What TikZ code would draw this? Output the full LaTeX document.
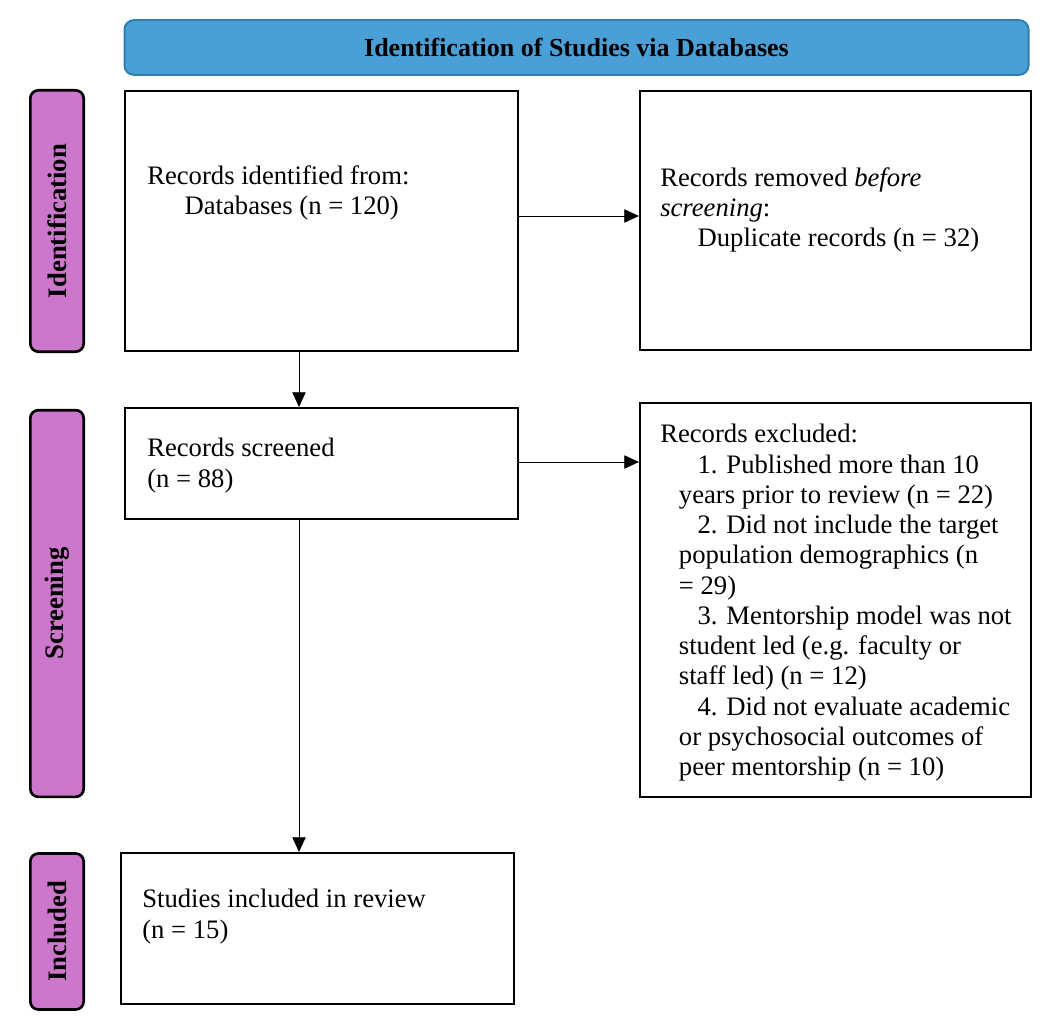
\documentclass[tikz,border=0pt]{standalone}
\usepackage{fontspec}
\setmainfont{Liberation Serif}
\usetikzlibrary{arrows.meta}
\definecolor{banner}{HTML}{4A9FD6}
\definecolor{bannerb}{HTML}{2F7FAF}
\definecolor{side}{HTML}{CC77CC}
\tikzset{
  boxs/.style={draw=black, line width=1.6pt},
  sidebox/.style={draw=black, line width=2pt, fill=side, rounded corners=6pt},
  sidetext/.style={rotate=90, font=\fontsize{20pt}{22pt}\selectfont\bfseries},
  txt/.style={anchor=north west, inner sep=0pt, align=left, font=\fontsize{20pt}{22.7pt}\selectfont},
  arr/.style={-{Triangle[length=11pt,width=10pt]}, line width=0.7pt}
}
\begin{document}
\begin{tikzpicture}[x=0.75pt,y=-0.75pt]
\useasboundingbox (0,0) rectangle (1054,1020);
% banner
\node[draw=bannerb, line width=1.5pt, fill=banner, rounded corners=7pt, minimum width=678pt, minimum height=41pt, inner sep=0pt, font=\fontsize{19.5pt}{22pt}\selectfont\bfseries] (ban) at (576.5,47.5) {Identification of Studies via Databases};
% side labels
\node[sidebox, minimum width=40pt, minimum height=196pt, inner sep=0pt] (s1) at (57,221) {};
\node[sidetext] (t1) at (s1.center) {Identification};
\node[sidebox, minimum width=40pt, minimum height=290pt, inner sep=0pt] (s2) at (57,603.5) {};
\node[sidetext] (t2) at (s2.center) {Screening};
\node[sidebox, minimum width=40pt, minimum height=117pt, inner sep=0pt] (s3) at (57,931.5) {};
\node[sidetext] (t3) at (s3.center) {Included};
% boxes
\node[boxs, minimum width=294.75pt, minimum height=195pt, inner sep=0pt] (b1) at (321.5,221) {};
\node[txt] (b1t) at (147,165) {Records identified from:\\\hspace*{28pt}Databases (n = 120)};
\node[boxs, minimum width=293.25pt, minimum height=194.25pt, inner sep=0pt] (b2) at (835.5,220.5) {};
\node[txt] (b2t) at (660,167) {Records removed \emph{before}\\\emph{screening}:\\\hspace*{28pt}Duplicate records (n = 32)};
\node[boxs, minimum width=294.75pt, minimum height=83.25pt, inner sep=0pt] (b3) at (321.5,463.5) {};
\node[txt] (b3t) at (147,438) {Records screened\\(n = 88)};
\node[boxs, minimum width=293.25pt, minimum height=295.5pt, inner sep=0pt] (b4) at (835.5,600) {};
\node[txt] (b4t) at (660,424) {Records excluded:\\
\hspace*{28pt}1. Published more than 10\\
\hspace*{14pt}years prior to review (n = 22)\\
\hspace*{28pt}2. Did not include the target\\
\hspace*{14pt}population demographics (n\\
\hspace*{14pt}= 29)\\
\hspace*{28pt}3. Mentorship model was not\\
\hspace*{14pt}student led (e.g. faculty or\\
\hspace*{14pt}staff led) (n = 12)\\
\hspace*{28pt}4. Did not evaluate academic\\
\hspace*{14pt}or psychosocial outcomes of\\
\hspace*{14pt}peer mentorship (n = 10)};
\node[boxs, minimum width=294.75pt, minimum height=113.25pt, inner sep=0pt] (b5) at (317.5,928.5) {};
\node[txt] (b5t) at (142,889) {Studies included in review\\(n = 15)};
% arrows
\draw[arr] (b1.east |- 0,216) -- (b2.west |- 0,216);
\draw[arr] (b1.south -| 299,0) -- (b3.north -| 299,0);
\draw[arr] (b3.east |- 0,462) -- (b4.west |- 0,462);
\draw[arr] (b3.south -| 299,0) -- (b5.north -| 299,0);
\end{tikzpicture}
\end{document}
